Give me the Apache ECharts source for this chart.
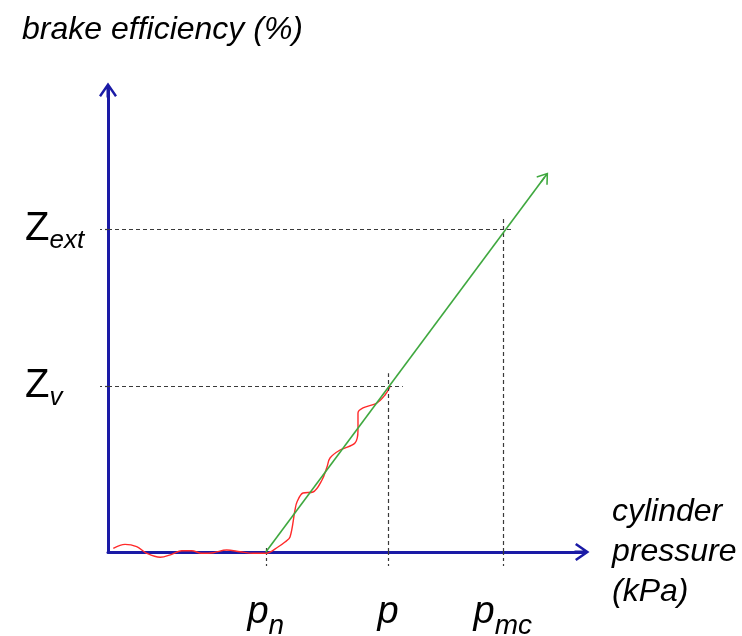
<!DOCTYPE html>
<html><head><meta charset="utf-8">
<script src="https://cdn.jsdelivr.net/npm/echarts@6/dist/echarts.min.js"></script>
<style>html,body{margin:0;padding:0;background:#fff}#c{width:742px;height:636px}</style>
</head><body><div id="c"></div>
<script>
// ---- data (arbitrary units: x 0..100, y 0..100) ----
const xTickValues = [33.3, 59.1, 83.3];               // p_n, p, p_mc
const xTickLabels = ['{p|p}{s|n}', '{p|p}', '{p|p}{s|mc}'];
const yTickValues = [35.9, 69.9];                     // Z_v, Z_ext
const yTickLabels = ['{z|Z}{s|v}', '{z|Z}{s|ext}'];
const greenStart = [33.3, 0];
const greenEnd = [92.1, 81.1];
const guideXEnd = [62.2, 85.4];     // where the horizontal dashed guides stop
const guideYTop = [1.5, 38.7, 72.5]; // where the vertical dashed guides stop
const redX = [1.12, 3.59, 6.05, 8.16, 11.0, 13.44, 15.55, 17.66, 19.77, 22.21, 25.04, 27.85, 30.65, 33.33,
              35.86, 37.34, 38.4, 39.45, 39.87, 41.14, 43.25, 45.15, 46.2, 46.84, 48.95, 52.11, 52.74, 52.74, 53.8, 56.75, 58.44, 59.49];
const redY = [0.80, 1.66, 1.15, -0.28, -1.15, -0.50, 0.28, 0.28, -0.28, -0.15, 0.43, 0.06, -0.28, -0.28,
              1.08, 2.16, 3.25, 9.09, 10.82, 12.77, 12.99, 15.58, 18.4, 20.35, 22.08, 23.59, 26.41, 30.09, 31.17, 32.25, 33.98, 35.71];

const FONT = 'Liberation Sans';
const BLUE = '#1a1aa6';
const GREEN = '#3fa83f';
const RED = '#ff2a2a';
const DASH = '#3a3a3a';
const axisArrow = 'path://M9,0 L18,13 L16,14.5 L10.5,6.5 L10.5,15 L7.5,15 L7.5,6.5 L2,14.5 L0,13 Z';
const greenArrow = 'path://M7,0 L14,10 L12.8,11 L7.8,3.8 L7.8,12 L6.2,12 L6.2,3.8 L1.2,11 L0,10 Z';

const chart = echarts.init(document.getElementById('c'), null, {renderer: 'canvas'});
const guides = [
  [{coord: [0, yTickValues[0]]}, {coord: [guideXEnd[0], yTickValues[0]]}],
  [{coord: [0, yTickValues[1]]}, {coord: [guideXEnd[1], yTickValues[1]]}],
  [{coord: [xTickValues[0], 0]}, {coord: [xTickValues[0], guideYTop[0]]}],
  [{coord: [xTickValues[1], 0]}, {coord: [xTickValues[1], guideYTop[1]]}],
  [{coord: [xTickValues[2], 0]}, {coord: [xTickValues[2], guideYTop[2]]}]
];
chart.setOption({
  animation: false,
  backgroundColor: '#fff',
  title: {
    text: 'brake efficiency (%)', left: 17, top: 9,
    textStyle: {fontFamily: FONT, fontSize: 32, fontStyle: 'italic', fontWeight: 'normal', color: '#000'}
  },
  grid: {left: 108, right: 160, top: 90, bottom: 84, containLabel: false, outerBoundsMode: 'none'},
  xAxis: {
    type: 'value', min: 0, max: 100,
    splitLine: {show: false},
    axisLine: {show: true, onZero: true, symbol: ['none', axisArrow], symbolSize: [18, 15],
      lineStyle: {color: BLUE, width: 3}},
    axisTick: {show: true, customValues: xTickValues, length: 14, inside: false,
      lineStyle: {color: DASH, width: 1.2, type: [3, 3]}},
    axisLabel: {
      customValues: xTickValues, margin: 35,
      formatter: v => xTickLabels[xTickValues.indexOf(v)],
      rich: {
        p: {fontFamily: FONT, fontSize: 38, fontStyle: 'italic', color: '#000', lineHeight: 50},
        s: {fontFamily: FONT, fontSize: 28, fontStyle: 'italic', color: '#000', lineHeight: 22, padding: [28, 0, 0, 0]}
      }
    },
    name: 'cylinder\npressure\n(kPa)', nameLocation: 'end', nameGap: 30,
    nameTextStyle: {fontFamily: FONT, fontSize: 32, fontStyle: 'italic', color: '#000', lineHeight: 40,
      align: 'left', verticalAlign: 'middle'}
  },
  yAxis: {
    type: 'value', min: 0, max: 100,
    splitLine: {show: false},
    axisLine: {show: true, onZero: true, symbol: ['none', axisArrow], symbolSize: [18, 15],
      lineStyle: {color: BLUE, width: 3}},
    axisTick: {show: true, customValues: yTickValues, length: 8, inside: false,
      lineStyle: {color: DASH, width: 1.2, type: [3, 3]}},
    axisLabel: {
      customValues: yTickValues, margin: 83, align: 'left',
      formatter: v => yTickLabels[yTickValues.indexOf(v)],
      rich: {
        z: {fontFamily: FONT, fontSize: 40, color: '#000', lineHeight: 50},
        s: {fontFamily: FONT, fontSize: 26, fontStyle: 'italic', color: '#000', lineHeight: 20, padding: [24, 0, 0, 0]}
      }
    }
  },
  series: [
    {
      type: 'line', data: [], silent: true,
      markLine: {
        silent: true, symbol: ['none', 'none'], animation: false,
        label: {show: false},
        lineStyle: {color: DASH, width: 1.2, type: [4, 3]},
        data: guides
      }
    },
    {
      type: 'line', data: [], silent: true,
      markLine: {
        silent: true, symbol: ['none', greenArrow], symbolSize: [14, 12], animation: false,
        label: {show: false},
        lineStyle: {color: GREEN, width: 1.6, type: 'solid'},
        data: [[{coord: greenStart}, {coord: greenEnd}]]
      }
    },
    {
      type: 'line', clip: false, showSymbol: false, smooth: 0.35, silent: true,
      lineStyle: {color: RED, width: 1.4},
      data: redX.map((x, i) => [x, redY[i]]),
      z: 3
    }
  ]
});
</script></body></html>
